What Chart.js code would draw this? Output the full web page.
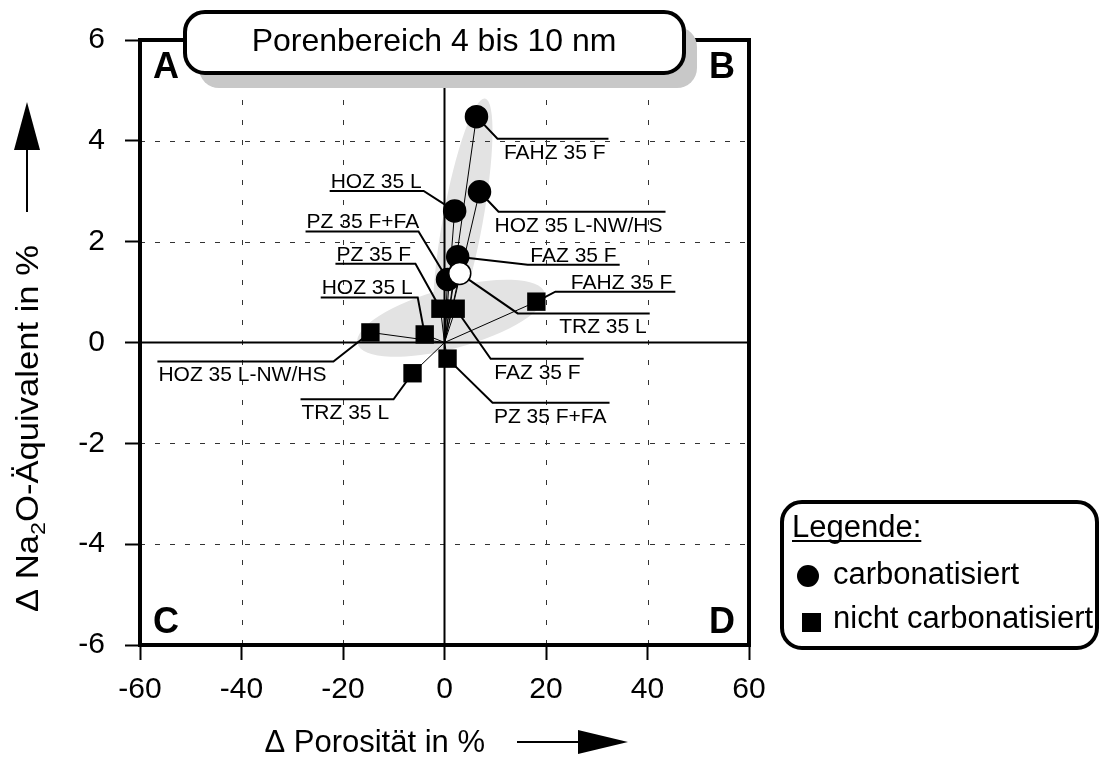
<!DOCTYPE html>
<html>
<head>
<meta charset="utf-8">
<script src="https://cdn.jsdelivr.net/npm/chart.js@4.4.1/dist/chart.umd.min.js"></script>
<style>
  html, body { margin: 0; padding: 0; background: #fff; }
  #wrap { width: 1099px; height: 758px; }
</style>
</head>
<body>
<div id="wrap"><canvas id="myChart" width="1099" height="758"></canvas></div>
<script>
// carbonatisiert (circles) - the last one is drawn as an open circle
var carbNames = ['FAHZ 35 F', 'HOZ 35 L-NW/HS', 'HOZ 35 L', 'FAZ 35 F', 'PZ 35 F+FA', 'TRZ 35 L'];
var carbX = [6.3, 6.9, 2.0, 2.6, 0.6, 3.0];
var carbY = [4.48, 2.99, 2.61, 1.70, 1.25, 1.37];

// nicht carbonatisiert (squares)
var nonNames = ['FAHZ 35 F', 'HOZ 35 L', 'HOZ 35 L-NW/HS', 'TRZ 35 L', 'FAZ 35 F', 'PZ 35 F+FA', 'PZ 35 F'];
var nonX = [18.1, -3.9, -14.6, -6.3, 2.2, 0.6, -0.8];
var nonY = [0.81, 0.16, 0.20, -0.61, 0.67, -0.32, 0.67];

var xTicks = [-60, -40, -20, 0, 20, 40, 60];
var yTicks = [-6, -4, -2, 0, 2, 4, 6];
var xGrid = [-40, -20, 20, 40];
var yGrid = [-4, -2, 2, 4];

// label leaders: [elbow dx, elbow dy, underline side, underline length, text above/below]
var carbLabelPos = [
    [21, 22, 'r', 111, 'below'],
    [19, 20, 'r', 167, 'below'],
    [-31, -20, 'l', 94, 'above'],
    [70, 8, 'r', 92, 'above'],
    [-29, -48, 'l', 113, 'above'],
    [58, 40, 'r', 132, 'below']
];
var nonLabelPos = [
    [19, -10, 'r', 120, 'above'],
    [-7, -37, 'l', 97, 'above'],
    [-37, 29, 'l', 176, 'below'],
    [-19, 26, 'l', 93, 'below'],
    [35, 50, 'r', 93, 'below'],
    [45, 44, 'r', 117, 'below'],
    [-25, -45, 'l', 80, 'above']
];
var carbFill = ['#000', '#000', '#000', '#000', '#000', '#fff'];

// grey shaded groups: centre in data units, radii in px, rotation in rad
var shades = [
    {cx: 3.6, cy: 2.42, rx: 124, ry: 20, rot: -1.39},
    {cx: 1.3, cy: 0.48, rx: 97, ry: 30, rot: -0.265}
];

var FONT = "'Liberation Sans', Arial, Helvetica, sans-serif";
Chart.defaults.font.family = FONT;
Chart.defaults.color = '#000';

function toPts(xs, ys) {
    return xs.map(function (v, i) { return {x: v, y: ys[i]}; });
}

// thin vectors from the origin to every point
var vectorSets = [];
toPts(carbX, carbY).concat(toPts(nonX, nonY)).forEach(function (p) {
    vectorSets.push({
        data: [{x: 0, y: 0}, p],
        showLine: true,
        borderColor: '#000',
        borderWidth: 1,
        pointRadius: 0
    });
});

function roundRectPath(ctx, x, y, w, h, r) {
    ctx.beginPath();
    ctx.moveTo(x + r, y);
    ctx.lineTo(x + w - r, y);
    ctx.arcTo(x + w, y, x + w, y + r, r);
    ctx.lineTo(x + w, y + h - r);
    ctx.arcTo(x + w, y + h, x + w - r, y + h, r);
    ctx.lineTo(x + r, y + h);
    ctx.arcTo(x, y + h, x, y + h - r, r);
    ctx.lineTo(x, y + r);
    ctx.arcTo(x, y, x + r, y, r);
    ctx.closePath();
}

function drawLabels(ctx, sx, sy, xs, ys, names, pos) {
    ctx.font = '21px ' + FONT;
    ctx.lineWidth = 2;
    ctx.strokeStyle = '#000';
    ctx.fillStyle = '#000';
    ctx.lineJoin = 'miter';
    for (var i = 0; i < xs.length; i++) {
        var px = sx.getPixelForValue(xs[i]);
        var py = sy.getPixelForValue(ys[i]);
        var p = pos[i];
        var ex = px + p[0], ey = py + p[1];
        var x2 = p[2] === 'r' ? ex + p[3] : ex - p[3];
        ctx.beginPath();
        ctx.moveTo(px, py);
        ctx.lineTo(ex, ey);
        ctx.lineTo(x2, ey);
        ctx.stroke();
        var tx;
        if (p[2] === 'r') {
            ctx.textAlign = 'right';
            tx = x2 - 3;
        } else {
            ctx.textAlign = 'left';
            tx = x2 + 1;
        }
        ctx.textBaseline = 'alphabetic';
        ctx.fillText(names[i], tx, p[4] === 'above' ? ey - 3 : ey + 20);
    }
}

var backdrop = {
    id: 'backdrop',
    beforeDatasetsDraw: function (chart) {
        var ctx = chart.ctx, a = chart.chartArea;
        var sx = chart.scales.x, sy = chart.scales.y;
        ctx.save();
        // grey group shading
        ctx.fillStyle = '#e3e3e3';
        shades.forEach(function (s) {
            ctx.beginPath();
            ctx.ellipse(sx.getPixelForValue(s.cx), sy.getPixelForValue(s.cy), s.rx, s.ry, s.rot, 0, Math.PI * 2);
            ctx.fill();
        });
        // dotted grid
        ctx.strokeStyle = '#333';
        ctx.lineWidth = 1;
        ctx.setLineDash([5, 15]);
        xGrid.forEach(function (v) {
            var x = Math.round(sx.getPixelForValue(v)) + 0.5;
            ctx.beginPath(); ctx.moveTo(x, a.top); ctx.lineTo(x, a.bottom); ctx.stroke();
        });
        ctx.setLineDash([5, 10]);
        yGrid.forEach(function (v) {
            var y = Math.round(sy.getPixelForValue(v)) + 0.5;
            ctx.beginPath(); ctx.moveTo(a.left, y); ctx.lineTo(a.right, y); ctx.stroke();
        });
        ctx.setLineDash([]);
        // zero axes
        ctx.strokeStyle = '#000';
        ctx.lineWidth = 2;
        var x0 = sx.getPixelForValue(0), y0 = sy.getPixelForValue(0);
        ctx.beginPath(); ctx.moveTo(x0, a.top); ctx.lineTo(x0, a.bottom); ctx.stroke();
        ctx.beginPath(); ctx.moveTo(a.left, y0); ctx.lineTo(a.right, y0); ctx.stroke();
        // frame
        ctx.lineWidth = 4;
        ctx.strokeRect(a.left, a.top, a.right - a.left, a.bottom - a.top);
        // point labels with leaders
        drawLabels(ctx, sx, sy, carbX, carbY, carbNames, carbLabelPos);
        drawLabels(ctx, sx, sy, nonX, nonY, nonNames, nonLabelPos);
        ctx.restore();
    },
    afterDraw: function (chart) {
        var ctx = chart.ctx, a = chart.chartArea;
        ctx.save();
        // title box with shadow
        ctx.fillStyle = '#c8c8c8';
        roundRectPath(ctx, 199, 27, 498, 61, 20);
        ctx.fill();
        ctx.fillStyle = '#fff';
        ctx.strokeStyle = '#000';
        ctx.lineWidth = 4;
        roundRectPath(ctx, 185, 12, 499, 61, 20);
        ctx.fill();
        ctx.stroke();
        ctx.fillStyle = '#000';
        ctx.font = '32px ' + FONT;
        ctx.textAlign = 'center';
        ctx.textBaseline = 'alphabetic';
        ctx.fillText('Porenbereich 4 bis 10 nm', 434, 51);

        // quadrant letters
        ctx.font = 'bold 36px ' + FONT;
        ctx.textAlign = 'left';
        ctx.fillText('A', a.left + 13, a.top + 38);
        ctx.fillText('C', a.left + 13, a.bottom - 12);
        ctx.textAlign = 'right';
        ctx.fillText('B', a.right - 14, a.top + 38);
        ctx.fillText('D', a.right - 14, a.bottom - 12);

        // legend box
        ctx.lineWidth = 4;
        roundRectPath(ctx, 782, 502, 315, 146, 20);
        ctx.fillStyle = '#fff';
        ctx.fill();
        ctx.stroke();
        ctx.fillStyle = '#000';
        ctx.font = '31px ' + FONT;
        ctx.textAlign = 'left';
        ctx.fillText('Legende:', 792, 537);
        var lw = ctx.measureText('Legende:').width;
        ctx.lineWidth = 2;
        ctx.beginPath(); ctx.moveTo(792, 541); ctx.lineTo(792 + lw, 541); ctx.stroke();
        ctx.beginPath(); ctx.arc(808, 576, 11, 0, Math.PI * 2); ctx.fill();
        ctx.fillText('carbonatisiert', 833, 584);
        ctx.fillRect(802, 613, 19, 19);
        ctx.fillText('nicht carbonatisiert', 833, 628);

        // x axis title with arrow
        ctx.font = '31px ' + FONT;
        ctx.textAlign = 'right';
        ctx.fillText('\u0394 Porosit\u00e4t in %', 485, 752);
        ctx.lineWidth = 2;
        ctx.beginPath(); ctx.moveTo(517, 742); ctx.lineTo(582, 742); ctx.stroke();
        ctx.beginPath(); ctx.moveTo(578, 730); ctx.lineTo(628, 742); ctx.lineTo(578, 754); ctx.closePath(); ctx.fill();

        // y axis title (rotated), stretched along its run to span 245..612
        var big = '31px ' + FONT, small = '21px ' + FONT;
        var p1 = '\u0394 Na', p2 = '2', p3 = 'O-\u00c4quivalent in %';
        ctx.font = big;
        var w1 = ctx.measureText(p1).width, w3 = ctx.measureText(p3).width;
        ctx.font = small;
        var w2 = ctx.measureText(p2).width;
        var total = w1 + w2 + w3;
        var stretch = (612 - 245) / total;
        ctx.save();
        ctx.translate(38, 612);
        ctx.rotate(-Math.PI / 2);
        ctx.scale(stretch, 1);
        ctx.textAlign = 'left';
        ctx.font = big;
        ctx.fillText(p1, 0, 0);
        ctx.font = small;
        ctx.fillText(p2, w1, 7);
        ctx.font = big;
        ctx.fillText(p3, w1 + w2, 0);
        ctx.restore();
        ctx.beginPath(); ctx.moveTo(27, 212); ctx.lineTo(27, 146); ctx.stroke();
        ctx.beginPath(); ctx.moveTo(14, 150); ctx.lineTo(27, 102); ctx.lineTo(40, 150); ctx.closePath(); ctx.fill();
        ctx.restore();
    }
};

var ctx = document.getElementById('myChart').getContext('2d');
var chart = new Chart(ctx, {
    type: 'scatter',
    data: {
        datasets: [{
            label: 'carbonatisiert',
            data: toPts(carbX, carbY),
            pointStyle: 'circle',
            pointRadius: 11,
            backgroundColor: carbFill,
            borderColor: '#000',
            borderWidth: 1.5
        }, {
            label: 'nicht carbonatisiert',
            data: toPts(nonX, nonY),
            pointStyle: 'rect',
            pointRadius: 13,
            backgroundColor: '#000',
            borderColor: '#000',
            borderWidth: 0
        }].concat(vectorSets)
    },
    options: {
        responsive: false,
        animation: false,
        events: [],
        layout: {padding: {top: 40, right: 350, left: 0, bottom: 0}},
        plugins: {
            legend: {display: false},
            tooltip: {enabled: false},
            title: {display: false}
        },
        scales: {
            x: {
                type: 'linear',
                position: 'bottom',
                min: -60,
                max: 60,
                afterBuildTicks: function (s) { s.ticks = xTicks.map(function (v) { return {value: v}; }); },
                afterFit: function (s) { s.height = 113; },
                grid: {drawOnChartArea: false, drawTicks: true, tickLength: 15, tickColor: '#000', tickWidth: 2},
                border: {display: false},
                ticks: {
                    padding: 12,
                    color: '#000',
                    font: {size: 30},
                    maxRotation: 0,
                    autoSkip: false,
                    callback: function (v) { return String(v); }
                }
            },
            y: {
                type: 'linear',
                position: 'left',
                min: -6,
                max: 6,
                afterBuildTicks: function (s) { s.ticks = yTicks.map(function (v) { return {value: v}; }); },
                afterFit: function (s) { s.width = 140; },
                grid: {drawOnChartArea: false, drawTicks: true, tickLength: 15, tickColor: '#000', tickWidth: 2},
                border: {display: false},
                ticks: {
                    padding: 20,
                    color: '#000',
                    font: {size: 30},
                    autoSkip: false,
                    callback: function (v) { return String(v); }
                }
            }
        }
    },
    plugins: [backdrop]
});
</script>
</body>
</html>
